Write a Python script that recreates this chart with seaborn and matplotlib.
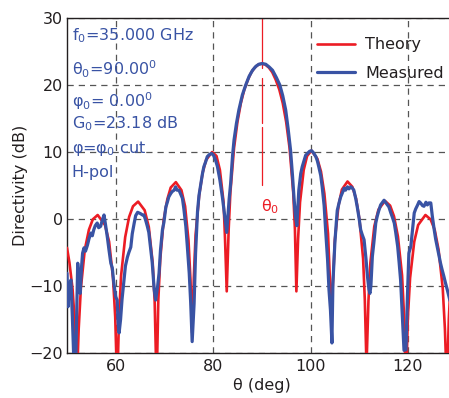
import matplotlib
matplotlib.use("Agg")
import matplotlib.pyplot as plt
import seaborn as sns
import pandas as pd

# ---------------- data ----------------
theory_theta = [
    50.0, 50.5, 51.15, 51.6, 52.0, 52.4, 52.85, 53.65, 54.5, 55.3, 56.3, 57.8, 58.65, 59.45, 59.9, 60.3,
    60.7, 61.1, 61.95, 62.75, 63.55, 64.6, 65.95, 66.8, 67.6, 68.0, 68.4,
    68.75, 69.15, 69.85, 70.6, 71.3, 72.35, 73.5, 74.25, 74.95, 75.35, 75.7,
    76.05, 76.4, 77.15, 77.85, 78.55, 79.8, 80.7, 81.4, 82.15, 82.45, 82.8,
    83.2, 83.55, 84.3, 85.0, 85.7, 86.4, 87.15, 87.85, 88.55, 89.3, 90.0,
    90.7, 91.45, 92.15, 92.85, 93.6, 94.3, 95.0, 95.7, 96.45, 96.8, 97.1,
    97.45, 97.85, 98.6, 99.3, 100.2, 101.4, 102.15, 102.85, 103.6, 103.95, 104.3,
    104.65, 105.0, 105.75, 106.45, 107.6, 108.6, 109.35, 110.05, 110.8, 111.15, 111.5,
    111.9, 112.3, 113.1, 113.95, 115.3, 116.35, 117.15, 117.95, 118.8, 119.2, 119.6,
    120.0, 120.45, 121.3, 122.1, 123.6, 124.65, 125.5, 126.3, 127.15, 127.6, 128.0,
    128.4, 128.8, 129.6, 130.0,
]
theory_db = [
    -4.3, -6.5, -10.5, -15.5, -25.0, -16.4, -10.3, -4.6, -1.6, -0.05, 0.6, -0.9, -3.4, -8.8, -14.6, -25.0,
    -14.4, -8.5, -2.7, 0.3, 1.9, 2.6, 1.3, -1.2, -6.6, -12.3, -25.0,
    -12.1, -6.0, -0.15, 2.95, 4.7, 5.5, 4.3, 1.9, -3.2, -9.0, -17.0,
    -8.6, -2.4, 3.6, 6.9, 8.8, 10.0, 9.4, 7.3, 2.5, -3.0, -10.8,
    -1.5, 4.0, 10.6, 14.5, 17.3, 19.3, 20.8, 21.9, 22.6, 23.05, 23.2,
    23.05, 22.6, 21.9, 20.8, 19.3, 17.3, 14.5, 10.6, 4.0, -1.5, -10.8,
    -3.0, 2.5, 7.3, 9.4, 10.2, 9.0, 7.1, 3.8, -2.2, -8.4, -14.0,
    -8.9, -3.1, 2.0, 4.4, 5.6, 4.8, 3.05, -0.05, -5.9, -12.0, -22.0,
    -12.2, -6.5, -1.1, 1.4, 2.7, 2.0, 0.4, -2.6, -8.4, -14.3, -25.0,
    -14.6, -8.8, -3.4, -0.9, 0.6, -0.05, -1.6, -4.6, -10.3, -16.4, -25.0,
    -15.0, -9.0, -3.5, -2.0,
]

measured_theta = [
    50.0, 50.2, 50.5, 50.8, 51.1, 51.4, 51.8, 52.0, 52.2, 52.5, 52.7, 53.0, 53.2, 53.5, 53.8, 54.2,
    54.5, 54.9, 55.2, 55.5, 55.8, 56.2, 56.5, 56.9, 57.2, 57.6, 57.9, 58.3, 58.6, 59.0, 59.3, 59.6,
    60.0, 60.3, 60.5, 60.7, 61.0, 61.3, 61.7, 62.0, 62.4, 62.7, 63.1, 63.4, 63.8, 64.1, 64.5, 65.1,
    65.5, 65.8, 66.2, 66.5, 66.8, 67.2, 67.5, 67.9, 68.2, 68.6, 68.9, 69.2, 69.6, 69.9, 70.3, 70.6,
    70.9, 71.3, 71.6, 72.0, 72.3, 72.6, 73.0, 73.3, 73.7, 74.0, 74.4, 74.7, 75.1, 75.4, 75.7, 76.1,
    76.4, 76.8, 77.1, 77.5, 77.8, 78.1, 78.5, 78.8, 79.2, 79.7, 80.1, 80.5, 80.9, 81.4, 81.9, 82.3,
    82.6, 82.8, 83.0, 83.3, 83.6, 84.0, 84.3, 84.8, 85.3, 86.0, 86.7, 87.4, 88.1, 88.8, 89.4, 90.1,
    90.8, 91.5, 92.2, 93.0, 93.7, 94.3, 94.9, 95.4, 95.9, 96.3, 96.6, 96.9, 97.2, 97.6, 98.0, 98.3,
    98.7, 99.0, 99.4, 99.8, 100.2, 100.6, 101.1, 101.4, 101.7, 102.1, 102.4, 102.8, 103.1, 103.5, 103.8, 104.1,
    104.4, 104.6, 104.8, 105.0, 105.3, 105.5, 105.9, 106.2, 106.6, 106.9, 107.2, 107.6, 107.9, 108.3, 108.6, 108.9,
    109.3, 109.6, 110.0, 110.3, 110.6, 111.0, 111.4, 111.7, 112.0, 112.2, 112.4, 112.7, 113.0, 113.4, 113.7, 114.0,
    114.4, 114.7, 115.1, 115.4, 115.8, 116.1, 116.5, 116.8, 117.2, 117.5, 117.9, 118.2, 118.5, 118.9, 119.2, 119.6,
    119.9, 120.2, 120.6, 120.9, 121.3, 121.6, 122.0, 122.3, 122.6, 123.0, 123.3, 123.7, 124.0, 124.3, 124.7, 125.0,
    125.4, 125.7, 126.0, 126.4, 126.7, 127.0, 127.4, 127.7, 128.1, 128.6, 129.0, 130.0,
]
measured_db = [
    -8.1, -13.1, -10.0, -9.1, -14.6, -21.0, -21.0, -14.1, -6.6, -9.5, -11.1, -7.0, -5.1, -4.3, -4.8, -3.9,
    -3.0, -2.1, -2.5, -1.6, -1.0, -0.6, -1.3, -1.1, -0.3, 0.6, -0.8, -2.8, -4.5, -6.6, -7.3, -9.5,
    -11.6, -12.1, -15.5, -17.0, -15.0, -12.0, -9.1, -7.0, -5.7, -5.0, -4.2, -2.2, -0.6, 0.5, 1.0, 0.8,
    0.6, 0.6, -0.3, -1.1, -2.0, -4.5, -6.5, -10.5, -12.1, -10.1, -8.1, -4.6, -1.6, -0.5, 1.8, 2.5,
    3.3, 3.8, 4.1, 4.3, 4.8, 4.3, 4.3, 3.8, 3.1, 1.5, -1.1, -4.0, -8.1, -12.5, -18.3, -12.6,
    -5.1, 1.1, 3.5, 5.3, 6.7, 7.8, 8.6, 9.3, 9.6, 9.8, 9.5, 8.8, 7.8, 5.8, 3.3, 1.0,
    -0.8, -2.0, 0.0, 3.0, 5.3, 9.5, 11.8, 14.3, 16.3, 18.5, 20.0, 21.3, 22.2, 22.8, 23.1, 23.2,
    23.1, 22.7, 22.2, 21.1, 20.0, 18.4, 16.3, 13.5, 10.3, 6.5, 3.3, 0.5, -1.0, 4.3, 6.8, 7.8,
    8.8, 9.5, 9.8, 10.1, 10.2, 9.9, 9.3, 8.7, 7.8, 6.5, 4.8, 2.0, -1.6, -6.0, -10.6, -13.6,
    -18.5, -9.6, -6.5, -3.6, -0.5, 1.3, 2.5, 3.3, 4.0, 4.6, 4.3, 4.8, 4.5, 4.8, 4.6, 4.3,
    3.0, 1.8, 0.0, -1.6, -2.3, -3.1, -6.0, -8.6, -10.5, -11.1, -10.0, -5.6, -3.6, -0.6, 0.4, 1.2,
    2.1, 2.4, 2.8, 2.5, 2.1, 1.8, 0.9, 0.3, -0.6, -2.0, -4.1, -6.5, -9.1, -15.1, -19.6, -19.5,
    -11.6, -5.1, -4.1, -2.0, 0.9, 1.5, 2.1, 2.6, 2.4, 2.0, 1.9, 2.5, 2.1, 2.4, 2.4, 0.5,
    -1.6, -3.0, -4.1, -5.5, -6.6, -7.5, -8.6, -9.5, -10.6, -12.1, -13.0, -14.0,
]

x_ticks = [60, 80, 100, 120]
y_ticks = [-20, -10, 0, 10, 20, 30]
x_range = [50, 130]
y_range = [-20, 30]

info_lines = [
    r"f$_0$=35.000 GHz",
    r"θ$_0$=90.00$^0$",
    r"φ$_0$= 0.00$^0$",
    r"G$_0$=23.18 dB",
    r"φ=φ$_0$ cut",
    "H-pol",
]
theta0 = 90.0
theta0_segments = [(30.0, 22.5), (21.0, 14.3), (13.7, 5.1)]

# ---------------- style ----------------
sns.set_theme(style="white")
plt.rcParams["font.family"] = ["DejaVu Sans"]
plt.rcParams["mathtext.fontset"] = "dejavusans"

RED = "#ec1c24"
BLUE = "#3953a4"
TXT = "#231f20"
FS = 11.5

fig = plt.figure(figsize=(4.49, 3.98), dpi=100)
ax = fig.add_axes([67 / 449, 45 / 398, 389.6 / 449, 335 / 398])

df_t = pd.DataFrame({"theta": theory_theta, "db": theory_db})
df_m = pd.DataFrame({"theta": measured_theta, "db": measured_db})

sns.lineplot(data=df_t, x="theta", y="db", ax=ax, color=RED, lw=1.9,
             estimator=None, sort=False, label="Theory", zorder=3)
sns.lineplot(data=df_m, x="theta", y="db", ax=ax, color=BLUE, lw=2.3,
             estimator=None, sort=False, label="Measured", zorder=4)

# theta0 marker
for (y0, y1) in theta0_segments:
    ax.plot([theta0, theta0], [y0, y1], color=RED, lw=0.9, zorder=2)
ax.text(theta0 - 0.2, 1.8, r"θ$_0$", color=RED, fontsize=FS, ha="left", va="center")

ax.set_xlim(*x_range)
ax.set_ylim(*y_range)
ax.set_xticks(x_ticks)
ax.set_yticks(y_ticks)
ax.tick_params(axis="both", length=0, labelsize=FS, colors=TXT, pad=4)
ax.tick_params(axis="y", pad=3)
ax.grid(True, color="#555555", linestyle=(0, (5, 4)), linewidth=0.9)
ax.set_axisbelow(True)
for s in ["left", "bottom", "top", "right"]:
    ax.spines[s].set_color(TXT)
    ax.spines[s].set_linewidth(1.0)
ax.set_xlabel("θ (deg)", fontsize=FS, color=TXT, labelpad=3)
ax.set_ylabel("Directivity (dB)", fontsize=FS, color=TXT, labelpad=1)

# info text block (baselines)
y_pos = [0.932, 0.830, 0.734, 0.672, 0.597, 0.525]
for t, yp in zip(info_lines, y_pos):
    ax.text(0.012, yp, t, transform=ax.transAxes, color=BLUE, fontsize=FS,
            ha="left", va="baseline")

leg = ax.legend(loc="upper left", bbox_to_anchor=(0.605, 0.985), frameon=False,
                fontsize=FS, handlelength=2.4, handletextpad=0.6, labelspacing=0.85)
for txt in leg.get_texts():
    txt.set_color(TXT)

fig.savefig("out.png", dpi=100)
